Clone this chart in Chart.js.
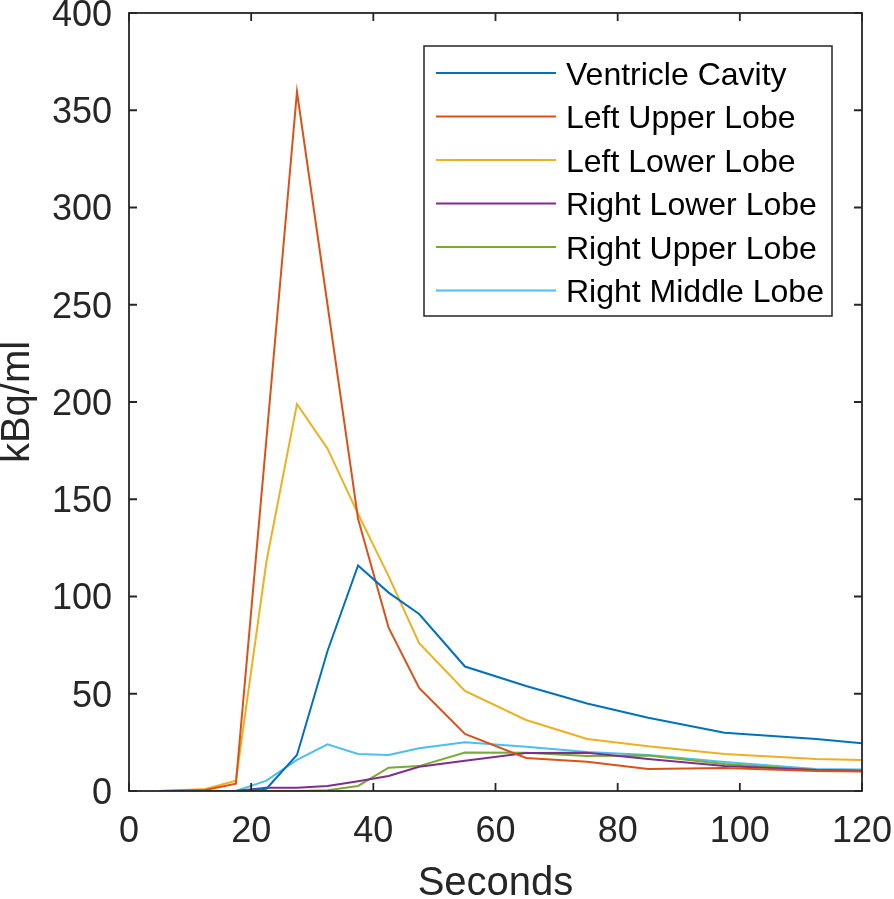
<!DOCTYPE html>
<html>
<head>
<meta charset="utf-8">
<script src="https://cdn.jsdelivr.net/npm/chart.js@4.4.1/dist/chart.umd.min.js"></script>
<style>
  html, body { margin: 0; padding: 0; background: #fff; }
  #wrap { width: 894px; height: 899px; }
</style>
</head>
<body>
<div id="wrap"><canvas id="curves"></canvas></div>
<script>
// time points (s) and activity curves (kBq/ml)
const seconds = [5, 12.5, 17.5, 22.5, 27.5, 32.5, 37.5, 42.5, 47.5, 55, 65, 75, 85, 97.5, 112.5, 120];
const ventricleCavity = [0, 0, 0, 1.2, 18.5, 72, 116, 102, 91, 64, 54, 45, 37.7, 30, 26.7, 24.6];
const leftUpperLobe   = [0, 0.5, 3.8, 181, 359.5, 250, 140, 84, 53, 29.3, 17, 15, 11.3, 11.8, 10.3, 10];
const leftLowerLobe   = [0, 1, 5.3, 118, 199, 176, 142.5, 110.5, 76, 51.5, 36.5, 26.7, 23, 19, 16.4, 16];
const rightLowerLobe  = [0, 0, 0, 1.7, 1.7, 2.6, 5, 7.7, 12.5, 15.6, 19.5, 19.7, 16.4, 12.8, 10.8, 10.4];
const rightUpperLobe  = [0, 0, 0, 0, 0, 0.4, 2.6, 12, 12.8, 19.8, 19.7, 18, 18.3, 13.9, 10.8, 10.4];
const rightMiddleLobe = [0, 0, 0, 5.3, 16, 24, 19, 18.5, 22, 25, 22.8, 20, 18.5, 14.9, 11.3, 11];

const seriesNames = ['Ventricle Cavity', 'Left Upper Lobe', 'Left Lower Lobe',
                     'Right Lower Lobe', 'Right Upper Lobe', 'Right Middle Lobe'];
const seriesValues = [ventricleCavity, leftUpperLobe, leftLowerLobe,
                      rightLowerLobe, rightUpperLobe, rightMiddleLobe];
const colors = ['#0072BD', '#D95319', '#EDB120', '#7E2F8E', '#77AC30', '#4DBEEE'];

const FONT = "Arial, 'Liberation Sans', Helvetica, sans-serif";
const AXIS = '#262626';

// box, inward ticks and the legend, drawn the way matlab does it
const matlabFrame = {
  id: 'matlabFrame',
  afterDraw(chart) {
    const { ctx, chartArea: a, scales: { x, y } } = chart;
    ctx.save();
    ctx.strokeStyle = AXIS;
    ctx.lineWidth = 1.8;
    ctx.strokeRect(a.left, a.top, a.right - a.left, a.bottom - a.top);
    ctx.beginPath();
    x.ticks.forEach(t => {
      const px = x.getPixelForValue(t.value);
      ctx.moveTo(px, a.bottom); ctx.lineTo(px, a.bottom - 8);
      ctx.moveTo(px, a.top);    ctx.lineTo(px, a.top + 8);
    });
    y.ticks.forEach(t => {
      const py = y.getPixelForValue(t.value);
      ctx.moveTo(a.left, py);  ctx.lineTo(a.left + 8, py);
      ctx.moveTo(a.right, py); ctx.lineTo(a.right - 8, py);
    });
    ctx.stroke();

    // legend box
    const bx = a.right - 30 - 408, by = a.top + 33, bw = 408, bh = 270;
    ctx.fillStyle = '#fff';
    ctx.fillRect(bx, by, bw, bh);
    ctx.lineWidth = 1.5;
    ctx.strokeRect(bx, by, bw, bh);
    ctx.font = '32px ' + FONT;
    ctx.textBaseline = 'middle';
    ctx.textAlign = 'left';
    chart.data.datasets.forEach((ds, i) => {
      const ry = by + 27 + i * 43.5;
      ctx.strokeStyle = ds.borderColor;
      ctx.lineWidth = 2;
      ctx.beginPath();
      ctx.moveTo(bx + 12, ry); ctx.lineTo(bx + 132, ry);
      ctx.stroke();
      ctx.fillStyle = '#000';
      ctx.fillText(ds.label, bx + 142, ry + 3);
    });
    ctx.restore();
  }
};

const datasets = seriesNames.map((name, i) => ({
  label: name,
  data: seconds.map((s, j) => ({ x: s, y: seriesValues[i][j] })),
  borderColor: colors[i],
  backgroundColor: colors[i],
  borderWidth: 2,
  pointRadius: 0,
  tension: 0,
  fill: false
}));

new Chart(document.getElementById('curves'), {
  type: 'line',
  data: { datasets },
  options: {
    responsive: true,
    maintainAspectRatio: false,
    animation: false,
    layout: { padding: { top: 13, right: 32, left: 0, bottom: 0 } },
    plugins: { legend: { display: false }, tooltip: { enabled: false } },
    scales: {
      x: {
        type: 'linear', min: 0, max: 120,
        grid: { display: false, drawTicks: false },
        border: { display: false },
        ticks: { stepSize: 20, padding: 19, color: AXIS, font: { size: 36, family: FONT } },
        title: { display: true, text: 'Seconds', color: AXIS, padding: 0,
                 font: { size: 40, family: FONT, lineHeight: 0.75 } },
        afterFit(s) { s.height = 108; s.paddingLeft = 0; s.paddingRight = 0; }
      },
      y: {
        type: 'linear', min: 0, max: 400,
        grid: { display: false, drawTicks: false },
        border: { display: false },
        ticks: { stepSize: 50, padding: 17, labelOffset: 3, color: AXIS,
                 font: { size: 36, family: FONT } },
        title: { display: true, text: 'kBq/ml', color: AXIS, padding: 0,
                 font: { size: 40, family: FONT, lineHeight: 0.9 } },
        afterFit(s) { s.width = 129; s.paddingTop = 0; s.paddingBottom = 0; }
      }
    }
  },
  plugins: [matlabFrame]
});
</script>
</body>
</html>
